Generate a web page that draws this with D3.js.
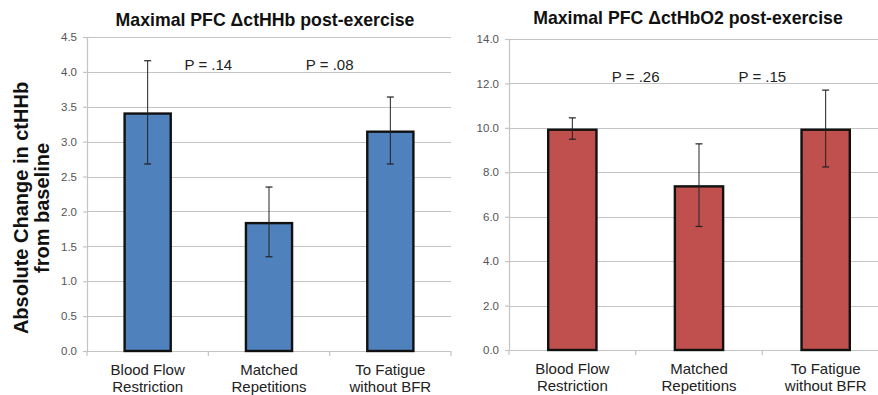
<!DOCTYPE html>
<html><head><meta charset="utf-8">
<script src="https://cdn.jsdelivr.net/npm/d3@7/dist/d3.min.js"></script>
<style>
html,body{margin:0;padding:0;background:#fff;}
svg{display:block;font-family:"Liberation Sans",Arial,sans-serif;}
</style></head>
<body>
<svg id="c" width="878" height="395"></svg>
<script>
const categories = [["Blood Flow","Restriction"],["Matched","Repetitions"],["To Fatigue","without BFR"]];
const hhbValues = [3.42, 1.85, 3.16];
const hhbErrors = [0.74, 0.50, 0.48];
const hbo2Values = [9.97, 7.42, 9.97];
const hbo2Errors = [0.48, 1.86, 1.73];
const hhbTicks = [0,0.5,1,1.5,2,2.5,3,3.5,4,4.5];
const hbo2Ticks = [0,2,4,6,8,10,12,14];
const hhbPLabels = ["P = .14","P = .08"];
const hbo2PLabels = ["P = .26","P = .15"];
const hhbPLevel = 4.03;
const hbo2PLevel = 12.07;
const titles = ["Maximal PFC \u0394ctHHb post-exercise","Maximal PFC \u0394ctHbO2 post-exercise"];
const yTitle = ["Absolute Change in ctHHb","from baseline"];

const svg = d3.select("#c");

function panel(cfg){
  const g = svg.append("g");
  const x = d3.scaleBand().domain(d3.range(categories.length)).range([cfg.x0,cfg.x1]).padding(0);
  const y = d3.scaleLinear().domain([0,cfg.max]).range([cfg.y0,cfg.y1]);
  const gridColor = "#c4c4c4";
  // gridlines
  g.selectAll("line.grid").data(cfg.ticks.filter(t=>t>0)).join("line")
    .attr("x1",cfg.x0).attr("x2",cfg.gridEnd)
    .attr("y1",d=>Math.round(y(d))+0.5).attr("y2",d=>Math.round(y(d))+0.5)
    .attr("stroke",gridColor).attr("stroke-width",1.2);
  // y axis
  const ya = d3.axisLeft(y).tickValues(cfg.ticks).tickFormat(d3.format(".1f")).tickSize(4).tickSizeOuter(0).tickPadding(6);
  const yg = g.append("g").attr("transform",`translate(${cfg.x0},0)`).call(ya);
  yg.select(".domain").attr("stroke",gridColor).attr("stroke-width",1.2);
  yg.selectAll(".tick line").attr("stroke",gridColor).attr("stroke-width",1.2);
  yg.selectAll(".tick text").attr("fill","#555").style("font-size","11.5px").style("font-family","'Liberation Sans',Arial,sans-serif");
  // x axis
  const bounds = d3.range(categories.length+1).map(i=> i<categories.length ? x(i) : x(i-1)+x.bandwidth());
  g.append("line").attr("x1",cfg.x0).attr("x2",cfg.gridEnd).attr("y1",cfg.y0+0.5).attr("y2",cfg.y0+0.5)
    .attr("stroke",gridColor).attr("stroke-width",1.2);
  g.selectAll("line.xt").data(bounds).join("line")
    .attr("x1",d=>d).attr("x2",d=>d).attr("y1",cfg.y0).attr("y2",cfg.y0+5)
    .attr("stroke",gridColor).attr("stroke-width",1.2);
  // bars
  const bw = x.bandwidth()*0.4;
  g.selectAll("rect.bar").data(cfg.values).join("rect")
    .attr("x",(d,i)=>x(i)+x.bandwidth()/2-bw/2+1.2)
    .attr("width",bw-2.4)
    .attr("y",d=>y(d)+1.2)
    .attr("height",d=>cfg.y0-y(d)-1.2)
    .attr("fill",cfg.color).attr("stroke","#111").attr("stroke-width",2.4);
  // error bars
  const eb = g.selectAll("g.eb").data(cfg.values).join("g");
  eb.append("line")
    .attr("x1",(d,i)=>x(i)+x.bandwidth()/2).attr("x2",(d,i)=>x(i)+x.bandwidth()/2)
    .attr("y1",(d,i)=>y(d+cfg.errors[i])).attr("y2",(d,i)=>y(d-cfg.errors[i]))
    .attr("stroke","#222").attr("stroke-width",1);
  [1,-1].forEach(s=>{
    eb.append("line")
      .attr("x1",(d,i)=>x(i)+x.bandwidth()/2-3.5).attr("x2",(d,i)=>x(i)+x.bandwidth()/2+3.5)
      .attr("y1",(d,i)=>y(d+s*cfg.errors[i])).attr("y2",(d,i)=>y(d+s*cfg.errors[i]))
      .attr("stroke","#222").attr("stroke-width",1.2);
  });
  // category labels
  const cl = g.selectAll("text.cat").data(categories).join("text")
    .attr("text-anchor","middle").attr("fill","#222").style("font-size","15px");
  cl.each(function(d,i){
    const t = d3.select(this);
    d.forEach((line,j)=>{
      t.append("tspan").attr("x",x(i)+x.bandwidth()/2).attr("y",cfg.y0+24+j*17).text(line);
    });
  });
  // P labels centered on the boundaries between bars
  g.selectAll("text.p").data(cfg.pLabels).join("text")
    .attr("x",(d,i)=>x(i+1)).attr("y",y(cfg.pLevel))
    .attr("text-anchor","middle").attr("fill","#222").style("font-size","15px").text(d=>d);
  // title
  g.append("text").attr("x",cfg.titleX).attr("y",cfg.titleY).attr("text-anchor","middle")
    .attr("fill","#111").style("font-size","17.7px").style("font-weight","bold").text(cfg.title);
  return {x,y};
}

panel({x0:87,x1:451,gridEnd:451,y0:351,y1:37,max:4.5,ticks:hhbTicks,values:hhbValues,errors:hhbErrors,
  color:"#4F81BD",pLabels:hhbPLabels,pLevel:hhbPLevel,title:titles[0],titleX:265,titleY:26});
panel({x0:509,x1:889,gridEnd:878,y0:350,y1:39,max:14,ticks:hbo2Ticks,values:hbo2Values,errors:hbo2Errors,
  color:"#C0504D",pLabels:hbo2PLabels,pLevel:hbo2PLevel,title:titles[1],titleX:688,titleY:24});

// y axis title (left panel)
const yt = svg.append("text").attr("transform","translate(28,208) rotate(-90)")
  .attr("text-anchor","middle").attr("fill","#111").style("font-size","20px").style("font-weight","bold");
yTitle.forEach((line,j)=>{
  yt.append("tspan").attr("x",0).attr("y",j*21).text(line);
});
</script>
</body></html>
